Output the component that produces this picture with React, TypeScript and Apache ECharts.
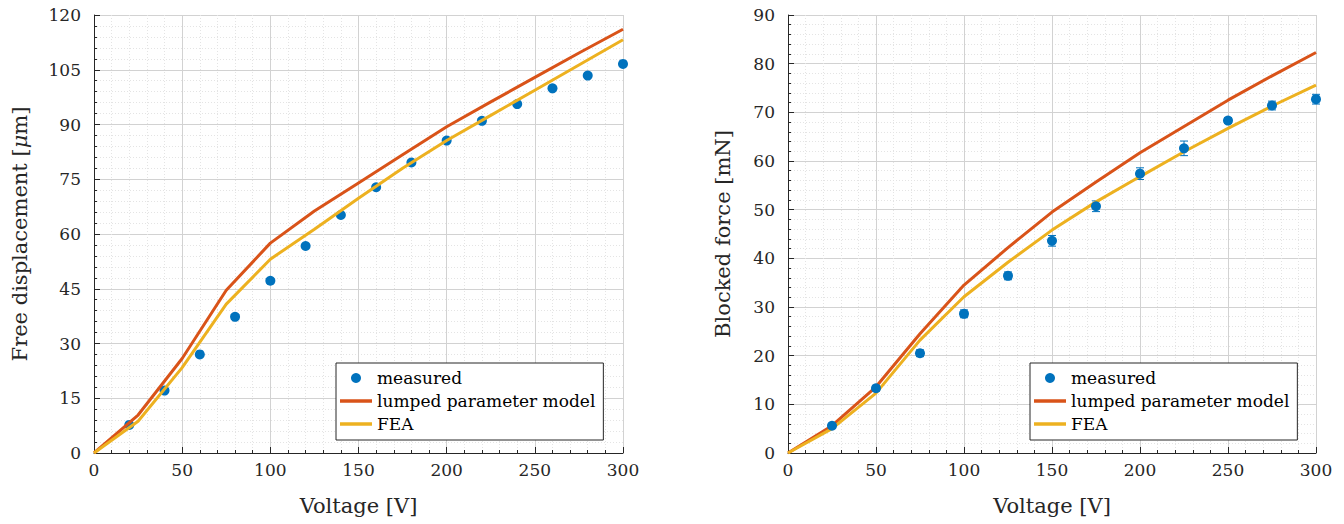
import React, { useEffect, useRef } from "react";
import * as echarts from "echarts";

// ---- Data: free displacement (left) ----
const dispVoltage = [20, 40, 60, 80, 100, 120, 140, 160, 180, 200, 220, 240, 260, 280, 300];
const dispMeasured = [7.7, 17.1, 27.0, 37.3, 47.2, 56.7, 65.2, 72.8, 79.6, 85.6, 91.0, 95.6, 99.9, 103.4, 106.6];
const modelVoltage = [0, 25, 50, 75, 100, 125, 150, 175, 200, 225, 250, 275, 300];
const dispLumped = [0, 10.4, 25.9, 44.6, 57.5, 66.3, 74.0, 81.7, 89.4, 96.2, 102.9, 109.6, 116.1];
const dispFEA = [0, 8.7, 23.4, 40.8, 53.1, 61.3, 69.8, 78.0, 85.6, 92.5, 99.4, 106.3, 113.2];

// ---- Data: blocked force (right) ----
const forceVoltage = [25, 50, 75, 100, 125, 150, 175, 200, 225, 250, 275, 300];
const forceMeasured = [5.6, 13.3, 20.5, 28.6, 36.4, 43.6, 50.7, 57.4, 62.6, 68.3, 71.4, 72.7];
const forceError = [0.5, 0.6, 0.7, 0.8, 0.8, 1.1, 1.1, 1.2, 1.5, 0.6, 0.9, 1.0];
const forceLumped = [0, 5.6, 13.6, 24.5, 34.5, 42.2, 49.5, 55.7, 61.7, 67.1, 72.5, 77.5, 82.3];
const forceFEA = [0, 5.0, 12.3, 23.2, 32.1, 39.2, 45.8, 51.6, 56.8, 61.9, 66.7, 71.3, 75.6];

// ---- Tick settings ----
const xMax = 300;
const xInterval = 50;
const dispYMax = 120;
const dispYInterval = 15;
const forceYMax = 90;
const forceYInterval = 10;

const legendNames = ["measured", "lumped parameter model", "FEA"];

const FONT = "DejaVu Serif";
const BLUE = "#0072BD";
const RED = "#D95319";
const YELLOW = "#EDB120";
const AXIS = "#262626";
const LINE_ICON = "path://M0,0H32V3.5H0Z";

function makeX(gridIndex: number) {
  return {
    type: "value",
    gridIndex,
    min: 0,
    max: xMax,
    interval: xInterval,
    name: "Voltage [V]",
    nameLocation: "middle",
    nameGap: 42,
    nameTextStyle: { fontFamily: FONT, fontSize: 21, color: AXIS },
    axisLine: { show: true, onZero: false, lineStyle: { color: AXIS, width: 1 } },
    axisTick: { show: true, inside: true, length: 6, lineStyle: { color: AXIS } },
    minorTick: { show: true, splitNumber: 5, length: 3, lineStyle: { color: AXIS } },
    axisLabel: { fontFamily: FONT, fontSize: 17, color: AXIS, margin: 8 },
    splitLine: { show: true, lineStyle: { color: "#d2d2d2", width: 1 } },
    minorSplitLine: { show: true, lineStyle: { color: "#e4e4e4", width: 1, type: [1, 2] } },
  };
}

function makeY(gridIndex: number, max: number, interval: number, name: string, nameGap: number) {
  return {
    type: "value",
    gridIndex,
    min: 0,
    max,
    interval,
    name,
    nameLocation: "middle",
    nameGap,
    nameTextStyle: {
      fontFamily: FONT,
      fontSize: 21,
      color: AXIS,
      rich: { i: { fontFamily: FONT, fontSize: 21, fontStyle: "italic", color: AXIS } },
    },
    axisLine: { show: true, onZero: false, lineStyle: { color: AXIS, width: 1 } },
    axisTick: { show: true, inside: true, length: 6, lineStyle: { color: AXIS } },
    minorTick: { show: true, splitNumber: 5, length: 3, lineStyle: { color: AXIS } },
    axisLabel: { fontFamily: FONT, fontSize: 17, color: AXIS, margin: 13 },
    splitLine: { show: true, lineStyle: { color: "#d2d2d2", width: 1 } },
    minorSplitLine: { show: true, lineStyle: { color: "#e4e4e4", width: 1, type: [1, 2] } },
  };
}

function makeLegend(left: number) {
  return {
    left,
    top: 363,
    orient: "vertical",
    data: [
      { name: legendNames[0], icon: "circle" },
      { name: legendNames[1], icon: LINE_ICON },
      { name: legendNames[2], icon: LINE_ICON },
    ],
    itemWidth: 32,
    itemHeight: 10,
    symbolKeepAspect: true,
    itemGap: 5,
    itemTextGap: 6,
    padding: [6, 8, 7, 4],
    borderColor: AXIS,
    borderWidth: 1,
    borderRadius: 0,
    backgroundColor: "#ffffff",
    textStyle: { fontFamily: FONT, fontSize: 17, color: "#000", lineHeight: 18 },
  };
}

export default function App() {
  const ref = useRef<HTMLDivElement>(null);
  useEffect(() => {
    if (!ref.current) return;
    const chart = echarts.init(ref.current, null, { renderer: "svg" });
    const option: any = {
      animation: false,
      backgroundColor: "#ffffff",
      textStyle: { fontFamily: FONT },
      grid: [
        { left: 94, right: 1344 - 623, top: 15, bottom: 71 },
        { left: 788, right: 1344 - 1316, top: 15, bottom: 71 },
      ],
      xAxis: [makeX(0), makeX(1)],
      yAxis: [
        makeY(0, dispYMax, dispYInterval, "Free displacement [{i|μ}m]", 64),
        makeY(1, forceYMax, forceYInterval, "Blocked force [mN]", 55),
      ],
      legend: [makeLegend(336), makeLegend(1030)],
      series: [
        {
          name: "lumped parameter model",
          type: "line",
          xAxisIndex: 0,
          yAxisIndex: 0,
          symbol: "none",
          lineStyle: { color: RED, width: 3 },
          itemStyle: { color: RED },
          data: modelVoltage.map((v, i) => [v, dispLumped[i]]),
        },
        {
          name: "FEA",
          type: "line",
          xAxisIndex: 0,
          yAxisIndex: 0,
          symbol: "none",
          lineStyle: { color: YELLOW, width: 3 },
          itemStyle: { color: YELLOW },
          data: modelVoltage.map((v, i) => [v, dispFEA[i]]),
        },
        {
          name: "measured",
          type: "scatter",
          xAxisIndex: 0,
          yAxisIndex: 0,
          symbol: "circle",
          symbolSize: 10,
          itemStyle: { color: BLUE, opacity: 1 },
          data: dispVoltage.map((v, i) => [v, dispMeasured[i]]),
        },
        {
          name: "lumped parameter model",
          type: "line",
          xAxisIndex: 1,
          yAxisIndex: 1,
          symbol: "none",
          lineStyle: { color: RED, width: 3 },
          itemStyle: { color: RED },
          data: modelVoltage.map((v, i) => [v, forceLumped[i]]),
        },
        {
          name: "FEA",
          type: "line",
          xAxisIndex: 1,
          yAxisIndex: 1,
          symbol: "none",
          lineStyle: { color: YELLOW, width: 3 },
          itemStyle: { color: YELLOW },
          data: modelVoltage.map((v, i) => [v, forceFEA[i]]),
        },
        {
          name: "errorbars",
          type: "custom",
          xAxisIndex: 1,
          yAxisIndex: 1,
          z: 3,
          encode: { x: 0, y: [1, 2] },
          renderItem: (params: any, api: any) => {
            const x = api.value(0);
            const lo = api.coord([x, api.value(1)]);
            const hi = api.coord([x, api.value(2)]);
            const cap = 4;
            const style = { stroke: BLUE, lineWidth: 1 };
            return {
              type: "group",
              children: [
                { type: "line", shape: { x1: lo[0], y1: lo[1], x2: hi[0], y2: hi[1] }, style },
                { type: "line", shape: { x1: lo[0] - cap, y1: lo[1], x2: lo[0] + cap, y2: lo[1] }, style },
                { type: "line", shape: { x1: hi[0] - cap, y1: hi[1], x2: hi[0] + cap, y2: hi[1] }, style },
              ],
            };
          },
          data: forceVoltage.map((v, i) => [v, forceMeasured[i] - forceError[i], forceMeasured[i] + forceError[i]]),
        },
        {
          name: "measured",
          type: "scatter",
          xAxisIndex: 1,
          yAxisIndex: 1,
          symbol: "circle",
          symbolSize: 10,
          z: 4,
          itemStyle: { color: BLUE, opacity: 1 },
          data: forceVoltage.map((v, i) => [v, forceMeasured[i]]),
        },
      ],
    };
    chart.setOption(option);
    return () => chart.dispose();
  }, []);
  return (
    <div
      ref={ref}
      style={{ position: "absolute", left: 0, top: 0, width: 1344, height: 524 }}
    />
  );
}
